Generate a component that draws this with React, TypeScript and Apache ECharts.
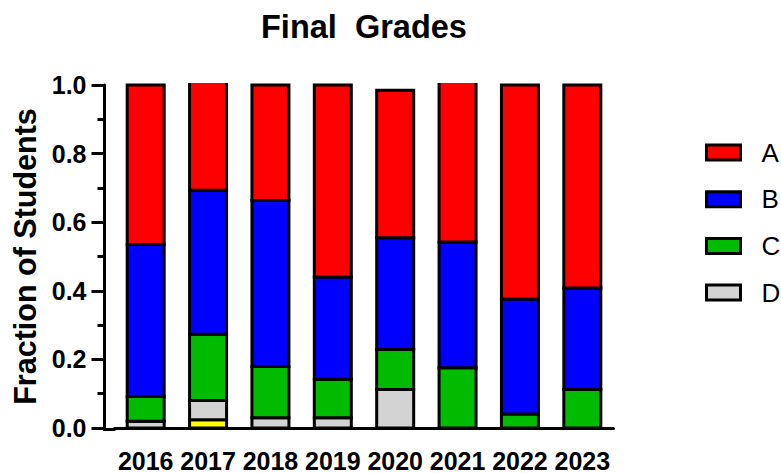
import React, { useEffect, useRef } from "react";
import * as echarts from "echarts";

const years = ["2016", "2017", "2018", "2019", "2020", "2021", "2022", "2023"];
const gradeA = [0.465, 0.317, 0.337, 0.56, 0.43, 0.468, 0.624, 0.592];
const gradeB = [0.443, 0.42, 0.484, 0.298, 0.326, 0.366, 0.335, 0.296];
const gradeC = [0.072, 0.193, 0.149, 0.112, 0.117, 0.176, 0.041, 0.112];
const gradeD = [0.02, 0.056, 0.03, 0.03, 0.112, 0, 0, 0];
const gradeF = [0, 0.024, 0, 0, 0, 0, 0, 0];
const legendNames = ["A", "B", "C", "D"];
const yTicks = { min: 0, max: 1, interval: 0.2 };

const FONT = "'Liberation Sans', Arial, sans-serif";

export default function App() {
  const ref = useRef<HTMLDivElement>(null);
  useEffect(() => {
    if (!ref.current) return;
    const chart = echarts.init(ref.current, null, { renderer: "svg" });
    const gridLeft = 114.5;
    const gridTop = 85;
    const gridBottomY = 429.5;
    const gridRightX = 613.5;
    const BAR_W = 37;

    // stack order bottom -> top
    const layers = [
      { name: "F", values: gradeF, color: "#ffff00" },
      { name: "D", values: gradeD, color: "#d3d3d3" },
      { name: "C", values: gradeC, color: "#00bb00" },
      { name: "B", values: gradeB, color: "#0000ff" },
      { name: "A", values: gradeA, color: "#ff0000" },
    ];
    const base = years.map(() => 0);
    const series = layers.map((layer) => {
      const data: any[] = [];
      layer.values.forEach((v, i) => {
        const start = base[i];
        const end = start + v;
        base[i] = end;
        if (v > 0) data.push([i, start, end]);
      });
      return {
        name: layer.name,
        type: "custom",
        itemStyle: { color: layer.color, borderColor: "#000", borderWidth: 3 },
        emphasis: { disabled: true },
        clip: false,
        data,
        renderItem: (params: any, api: any) => {
          const i = api.value(0);
          const start = api.value(1);
          const end = api.value(2);
          const x = api.coord([i, 0])[0];
          const y0 = api.coord([i, start])[1];
          const over = end > yTicks.max;
          const y1 = api.coord([i, over ? yTicks.max : end])[1] - (over ? 2 : 0);
          const left = x - BAR_W / 2;
          if (!over) {
            return {
              type: "rect",
              shape: { x: left, y: y1, width: BAR_W, height: y0 - y1 },
              style: { fill: layer.color, stroke: "#000", lineWidth: 3 },
            };
          }
          return {
            type: "group",
            children: [
              {
                type: "rect",
                shape: { x: left, y: y1, width: BAR_W, height: y0 - y1 },
                style: { fill: layer.color, stroke: null, lineWidth: 0 },
              },
              {
                type: "polyline",
                shape: {
                  points: [
                    [left, y1],
                    [left, y0],
                    [left + BAR_W, y0],
                    [left + BAR_W, y1],
                  ],
                },
                style: { fill: null, stroke: "#000", lineWidth: 3 },
              },
            ],
          };
        },
      };
    });

    chart.setOption({
      animation: false,
      backgroundColor: "#fff",
      textStyle: { fontFamily: FONT },
      title: {
        text: "Final  Grades",
        left: 261,
        top: 10,
        padding: 0,
        textStyle: { fontFamily: FONT, fontSize: 32.5, fontWeight: "bold", color: "#000" },
      },
      legend: {
        data: legendNames,
        orient: "vertical",
        left: 705,
        top: 139.5,
        padding: 0,
        itemWidth: 34,
        itemHeight: 15,
        itemGap: 20.7,
        icon: "rect",
        itemStyle: { borderColor: "#000", borderWidth: 3 },
        textStyle: {
          fontFamily: FONT,
          fontSize: 26,
          lineHeight: 26,
          color: "#000",
          padding: [0, 0, 0, 16],
        },
        selectedMode: false,
      },
      grid: {
        left: gridLeft,
        top: gridTop,
        width: gridRightX - gridLeft,
        height: gridBottomY - gridTop,
        containLabel: false,
      },
      xAxis: {
        type: "category",
        data: years,
        axisLine: { lineStyle: { color: "#000", width: 3 } },
        axisTick: { alignWithLabel: true, length: 13, lineStyle: { color: "#000", width: 3 } },
        axisLabel: {
          fontFamily: FONT,
          fontSize: 25,
          fontWeight: "bold",
          color: "#000",
          margin: 20,
          interval: 0,
        },
      },
      yAxis: {
        type: "value",
        min: yTicks.min,
        max: yTicks.max,
        interval: yTicks.interval,
        offset: 10,
        name: "Fraction of Students",
        nameLocation: "middle",
        nameGap: 64,
        nameTextStyle: { fontFamily: FONT, fontSize: 30.5, fontWeight: "bold", color: "#000" },
        axisLine: { show: true, lineStyle: { color: "#000", width: 3 } },
        axisTick: { show: true, length: 13, lineStyle: { color: "#000", width: 3 } },
        minorTick: { show: true, splitNumber: 2, length: 7, lineStyle: { color: "#000", width: 3 } },
        splitLine: { show: false },
        axisLabel: {
          fontFamily: FONT,
          fontSize: 25,
          fontWeight: "bold",
          color: "#000",
          margin: 18,
          formatter: (v: number) => v.toFixed(1),
        },
      },
      graphic: [
        {
          type: "line",
          shape: { x1: 103, y1: gridBottomY, x2: gridLeft + 1, y2: gridBottomY },
          style: { stroke: "#000", lineWidth: 3 },
          z: 10,
        },
      ],
      series,
    });
    return () => chart.dispose();
  }, []);
  return (
    <div
      ref={ref}
      style={{ position: "absolute", left: 0, top: 0, width: 781, height: 473 }}
    />
  );
}
